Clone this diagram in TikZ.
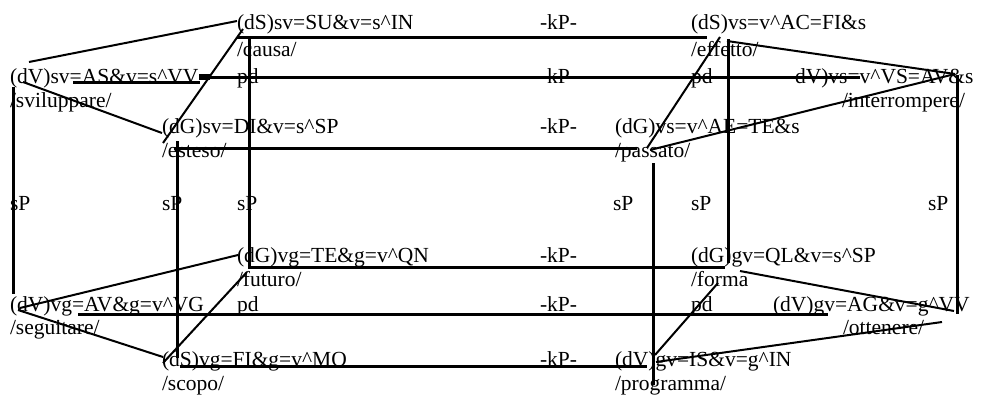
\documentclass[tikz,border=0pt]{standalone}
\usepackage{fontspec}
\setmainfont{Liberation Serif}
\newcommand{\crt}{\textasciicircum}
\begin{document}
\begin{tikzpicture}[x=1pt,y=-1pt,
  lbl/.style={anchor=base west,inner sep=0pt,outer sep=0pt,font=\fontsize{21.5}{24}\selectfont},
  edge/.style={line width=3pt},
  slant/.style={line width=2pt}]
\useasboundingbox (0,0) rectangle (983,394);
% ---- row 1
\node[lbl] (a1) at (237,29) {(dS)sv=SU\&v=s\crt IN};
\node[lbl] (a2) at (237,56) {/causa/};
\node[lbl] (a3) at (540,29) {-kP-};
\node[lbl] (a4) at (691,29) {(dS)vs=v\crt AC=FI\&s};
\node[lbl] (a5) at (691,56) {/effetto/};
% ---- row 2
\node[lbl] (b1) at (10,83) {(dV)sv=AS\&v=s\crt VV};
\node[lbl] (b2) at (10,107) {/sviluppare/};
\node[lbl] (b3) at (237,83) {pd};
\node[lbl] (b4) at (540,83) {-kP-};
\node[lbl] (b5) at (691,83) {pd};
\node[lbl] (b6) at (795,83) {dV)vs=v\crt VS=AV\&s};
\node[lbl] (b7) at (842,107) {/interrompere/};
% ---- row 3
\node[lbl] (c1) at (162,133) {(dG)sv=DI\&v=s\crt SP};
\node[lbl] (c2) at (162,157) {/esteso/};
\node[lbl] (c3) at (540,133) {-kP-};
\node[lbl] (c4) at (615,133) {(dG)vs=v\crt AE=TE\&s};
\node[lbl] (c5) at (615,157) {/passato/};
% ---- sP row
\node[lbl] (s1) at (10,210) {sP};
\node[lbl] (s2) at (162,210) {sP};
\node[lbl] (s3) at (237,210) {sP};
\node[lbl] (s4) at (613,210) {sP};
\node[lbl] (s5) at (691,210) {sP};
\node[lbl] (s6) at (928,210) {sP};
% ---- row 4
\node[lbl] (d1) at (237,262) {(dG)vg=TE\&g=v\crt QN};
\node[lbl] (d2) at (237,286) {/futuro/};
\node[lbl] (d3) at (540,262) {-kP-};
\node[lbl] (d4) at (691,262) {(dG)gv=QL\&v=s\crt SP};
\node[lbl] (d5) at (691,286) {/forma};
% ---- row 5
\node[lbl] (e1) at (10,311) {(dV)vg=AV\&g=v\crt VG};
\node[lbl] (e2) at (10,334) {/seguitare/};
\node[lbl] (e3) at (237,311) {pd};
\node[lbl] (e4) at (540,311) {-kP-};
\node[lbl] (e5) at (691,311) {pd};
\node[lbl] (e6) at (773,311) {(dV)gv=AG\&v=g\crt VV};
\node[lbl] (e7) at (843,334) {/ottenere/};
% ---- row 6
\node[lbl] (f1) at (162,366) {(dS)vg=FI\&g=v\crt MO};
\node[lbl] (f2) at (162,390) {/scopo/};
\node[lbl] (f3) at (540,366) {-kP-};
\node[lbl] (f4) at (615,366) {(dV)gv=IS\&v=g\crt IN};
\node[lbl] (f5) at (615,390) {/programma/};
% ---- line end points
\coordinate (h1a) at (237,37);   \coordinate (h1b) at (707,37);
\coordinate (h2a) at (73,82);    \coordinate (h2b) at (200,82);
\coordinate (h2c) at (200,77.5); \coordinate (h2d) at (860,77.5);
\coordinate (h3a) at (174,148.5);\coordinate (h3b) at (637,148.5);
\coordinate (h4a) at (248,267.5);\coordinate (h4b) at (725,267.5);
\coordinate (h5a) at (78,314);   \coordinate (h5b) at (828,314);
\coordinate (h6a) at (180,366);  \coordinate (h6b) at (647,366);
\coordinate (v1a) at (13,87);    \coordinate (v1b) at (13,294);
\coordinate (v2a) at (177,141);  \coordinate (v2b) at (177,358);
\coordinate (v3a) at (249,37);   \coordinate (v3b) at (249,268);
\coordinate (v4a) at (653,163);  \coordinate (v4b) at (653,385);
\coordinate (v5a) at (728,39);   \coordinate (v5b) at (728,263);
\coordinate (v6a) at (957.5,75); \coordinate (v6b) at (957.5,314);
\coordinate (q1a) at (29,62);    \coordinate (q1b) at (237,21);
\coordinate (q2a) at (243,29);   \coordinate (q2b) at (163,143);
\coordinate (q3a) at (23,82);    \coordinate (q3b) at (162,133);
\coordinate (q4a) at (720,37);   \coordinate (q4b) at (647,148);
\coordinate (q5a) at (727,41);   \coordinate (q5b) at (955,74);
\coordinate (q6a) at (650,150);
\coordinate (q7a) at (20,308);   \coordinate (q7b) at (238,255);
\coordinate (q8a) at (18,310);   \coordinate (q8b) at (163,357);
\coordinate (q9a) at (247,272);  \coordinate (q9b) at (163,363);
\coordinate (q10a) at (740,271); \coordinate (q10b) at (954,311);
\coordinate (q11a) at (942,322); \coordinate (q11b) at (656,362);
\coordinate (q12a) at (718,283); \coordinate (q12b) at (655,355);
% ---- straight connectors
\draw[edge] (h1a) -- (h1b);
\draw[edge] (h2a) -- (h2b);
\fill (199,74) rectangle (210,80);
\draw[edge] (h2c) -- (h2d);
\draw[edge] (h3a) -- (h3b);
\draw[edge] (h4a) -- (h4b);
\draw[edge] (h5a) -- (h5b);
\draw[edge] (h6a) -- (h6b);
\draw[edge] (v1a) -- (v1b);
\draw[edge] (v2a) -- (v2b);
\draw[edge] (v3a) -- (v3b);
\draw[edge] (v4a) -- (v4b);
\draw[edge] (v5a) -- (v5b);
\draw[edge] (v6a) -- (v6b);
% ---- slanted connectors
\draw[slant] (q1a) -- (q1b);
\draw[slant] (q2a) -- (q2b);
\draw[slant] (q3a) -- (q3b);
\draw[slant] (q4a) -- (q4b);
\draw[slant] (q5a) -- (q5b);
\draw[slant] (q6a) -- (q5b);
\draw[slant] (q7a) -- (q7b);
\draw[slant] (q8a) -- (q8b);
\draw[slant] (q9a) -- (q9b);
\draw[slant] (q10a) -- (q10b);
\draw[slant] (q11a) -- (q11b);
\draw[slant] (q12a) -- (q12b);
\end{tikzpicture}
\end{document}
